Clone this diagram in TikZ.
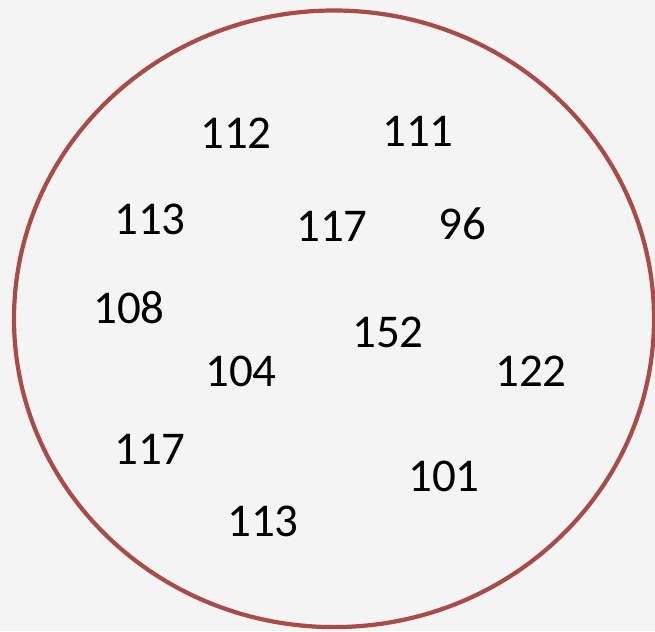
\documentclass[tikz,border=0pt]{standalone}
\usepackage{fontspec}
\setmainfont{Carlito}
\definecolor{bg}{HTML}{F4F4F4}
\definecolor{ring}{HTML}{A94B46}
\begin{document}
\begin{tikzpicture}[x=1pt,y=-1pt,
  num/.style={inner sep=0pt,anchor=center,font=\fontsize{47}{56}\selectfont}]
\fill[bg] (0,0) rectangle (655,631);
\useasboundingbox (0,0) rectangle (655,631);
\draw[ring,line width=4.2pt] (334,318.8) ellipse [x radius=320,y radius=308.3];
\node[num] (a) at (236,133) {112};
\node[num] (b) at (418,131) {111};
\node[num] (c) at (150,219) {113};
\node[num] (d) at (332,226) {117};
\node[num] (e) at (462,224) {96};
\node[num] (f) at (129,308) {108};
\node[num] (g) at (388,332) {152};
\node[num] (h) at (241,371) {104};
\node[num] (i) at (531,371) {122};
\node[num] (j) at (150,449) {117};
\node[num] (k) at (444,476) {101};
\node[num] (l) at (263,521) {113};
\end{tikzpicture}
\end{document}
